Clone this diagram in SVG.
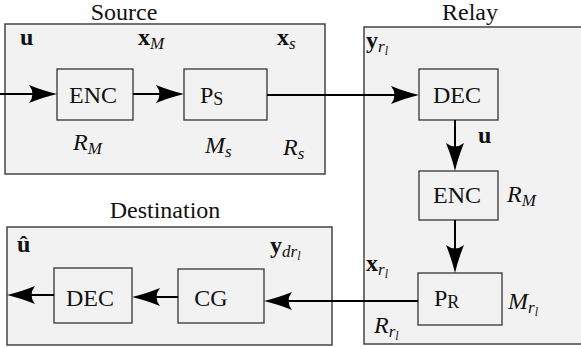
<svg xmlns="http://www.w3.org/2000/svg" width="581" height="347" viewBox="0 0 581 347">
<style>
  .outer { fill: #f2f2f2; stroke: #444; stroke-width: 1.5; }
  .blk { fill: #f2f2f2; stroke: #333; stroke-width: 1.3; }
  text { font-family: 'Liberation Serif', 'DejaVu Serif', 'Noto Serif', 'FreeSerif', Tinos, Times, Georgia, serif; font-size: 24px; fill: #111; }
  .c { text-anchor: middle; }
  .b { font-weight: bold; }
  .i { font-style: italic; }
  .s1 { font-size: 17px; }
  .s2 { font-size: 12px; }
  .w { stroke: #000; stroke-width: 2; fill: none; marker-end: url(#ah); }
</style>
<defs>
  <marker id="ah" viewBox="-30 -11 32 22" refX="-8" refY="0" markerWidth="32" markerHeight="22" markerUnits="userSpaceOnUse" orient="auto">
    <path d="M0,0 Q-13,-3 -28,-9 Q-21,0 -28,9 Q-13,3 0,0 Z" fill="#000"/>
  </marker>
</defs>

<g id="source">
  <rect class="outer" x="5" y="24" width="320" height="150"/>
  <text class="c" x="124" y="20">Source</text>
  <text class="b" x="20" y="45">u</text>
  <text x="138" y="45"><tspan class="b">x</tspan><tspan class="i s1" dy="4">M</tspan></text>
  <text x="277" y="45"><tspan class="b">x</tspan><tspan class="i s1" dy="4">s</tspan></text>
  <text x="73" y="150"><tspan class="i">R</tspan><tspan class="i s1" dy="4">M</tspan></text>
  <text x="205" y="153"><tspan class="i">M</tspan><tspan class="i s1" dy="4">s</tspan></text>
  <text x="283" y="155"><tspan class="i">R</tspan><tspan class="i s1" dy="4">s</tspan></text>
</g>
<g id="src-enc">
  <rect class="blk" x="57" y="69" width="76" height="51"/>
  <text class="c" x="93" y="103">ENC</text>
</g>
<g id="src-ps">
  <rect class="blk" x="184" y="69" width="83" height="51"/>
  <text x="200" y="103">P<tspan style="font-size:18px" dy="2">S</tspan></text>
</g>

<g id="relay">
  <rect class="outer" x="364" y="27" width="230" height="317"/>
  <text class="c" x="470" y="20">Relay</text>
  <text x="366" y="48"><tspan class="b">y</tspan><tspan class="i s1" dy="4">r</tspan><tspan class="i s2" dy="3">l</tspan></text>
  <text class="b" x="478" y="143">u</text>
  <text x="507" y="202"><tspan class="i">R</tspan><tspan class="i s1" dy="4">M</tspan></text>
  <text x="366" y="271"><tspan class="b">x</tspan><tspan class="i s1" dy="4">r</tspan><tspan class="i s2" dy="3">l</tspan></text>
  <text x="508" y="309"><tspan class="i">M</tspan><tspan class="i s1" dy="4">r</tspan><tspan class="i s2" dy="3">l</tspan></text>
  <text x="374" y="333"><tspan class="i">R</tspan><tspan class="i s1" dy="4">r</tspan><tspan class="i s2" dy="3">l</tspan></text>
</g>
<g id="rel-dec">
  <rect class="blk" x="419" y="69" width="79" height="51"/>
  <text class="c" x="457" y="103">DEC</text>
</g>
<g id="rel-enc">
  <rect class="blk" x="419" y="171" width="79" height="49"/>
  <text class="c" x="457" y="203">ENC</text>
</g>
<g id="rel-pr">
  <rect class="blk" x="418" y="273" width="84" height="52"/>
  <text x="434" y="306">P<tspan style="font-size:18px" dy="2">R</tspan></text>
</g>

<g id="destination">
  <rect class="outer" x="7" y="227" width="325" height="118"/>
  <text class="c" x="165" y="218">Destination</text>
  <text class="b" x="17" y="252">û</text>
  <text x="270" y="253"><tspan class="b">y</tspan><tspan class="i s1" dy="4">dr</tspan><tspan class="i s2" dy="3">l</tspan></text>
</g>
<g id="dst-dec">
  <rect class="blk" x="54" y="268" width="78" height="55"/>
  <text class="c" x="90" y="306">DEC</text>
</g>
<g id="dst-cg">
  <rect class="blk" x="178" y="269" width="86" height="54"/>
  <text class="c" x="211" y="306">CG</text>
</g>

<g id="connectors">
  <line class="w" x1="0" y1="94" x2="49" y2="94"/>
  <line class="w" x1="133" y1="94" x2="176" y2="94"/>
  <line class="w" x1="267" y1="95" x2="411" y2="95"/>
  <line class="w" x1="455" y1="120" x2="455" y2="163"/>
  <line class="w" x1="455" y1="220" x2="455" y2="265"/>
  <line class="w" x1="418" y1="301" x2="272" y2="301"/>
  <line class="w" x1="178" y1="297" x2="140" y2="297"/>
  <line class="w" x1="54" y1="295" x2="15" y2="295"/>
</g>
</svg>
